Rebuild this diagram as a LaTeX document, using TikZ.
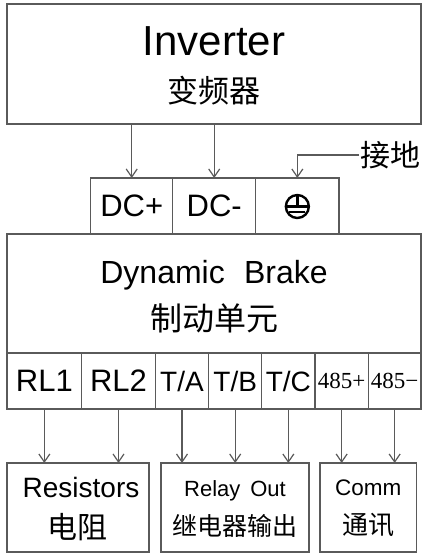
\documentclass[tikz,border=0pt]{standalone}
\usepackage{fontspec}
\setmainfont{Liberation Sans}
\newfontfamily\cjk{Noto Sans CJK SC}
\newfontfamily\numfont{Liberation Serif}
\usetikzlibrary{arrows.meta,positioning}
\definecolor{wire}{RGB}{90,90,90}

\begin{document}
\begin{tikzpicture}[
  x=1pt, y=-1pt,
  box/.style={draw=wire, line width=1.3pt, inner sep=0pt, outer sep=0pt},
  cell/.style={box, minimum height=56pt, font=\fontsize{31}{31}\selectfont},
  line/.style={-{Straight Barb[length=8pt,width=11pt]}, draw=wire, line width=1.2pt},
  txt/.style={inner sep=0pt}
]
\useasboundingbox (0,0) rectangle (424,555);

% inverter
\node[box, minimum width=414pt, minimum height=120pt] (inv) at (214,64) {};
\node[txt, anchor=base, font=\fontsize{42}{42}\selectfont] (invname) at (214,55) {Inverter};
\node[txt, font=\cjk\fontsize{31}{31}\selectfont] (invzh) at (214,90.5) {变频器};

% DC terminals
\node[cell, minimum width=82pt, anchor=north west] (dcp) at (90.7,178) {DC+};
\node[cell, minimum width=83pt, right=0pt of dcp] (dcn) {DC-};
\node[cell, minimum width=83.3pt, right=0pt of dcn] (pe) {};
\begin{scope}[shift={(pe.center)}, line width=2.4pt]
  \draw (0,0.5) circle[radius=11.5pt];
  \draw (0,-11) -- (0,0.5);
  \draw (-11.5,0.5) -- (11.5,0.5);
  \draw (-8,6) -- (8,6);
\end{scope}
\node[txt, anchor=west, inner sep=1pt, font=\cjk\fontsize{30}{30}\selectfont] (earth) at (359,155) {接地};

% brake unit
\node[box, minimum width=414pt, minimum height=119pt, anchor=north west] (brake) at (7,234) {};
\node[txt, anchor=base, font=\fontsize{32}{32}\selectfont] (brakename) at (214,283) {Dynamic\hspace{0.6em}Brake};
\node[txt, font=\cjk\fontsize{32}{32}\selectfont] (brakezh) at (214,318) {制动单元};

% output terminals
\node[cell, minimum width=74.7pt, anchor=north west] (rla) at (7,353) {RL1};
\node[cell, minimum width=73.6pt, right=0pt of rla] (rlb) {RL2};
\node[cell, minimum width=53.4pt, right=0pt of rlb, font=\fontsize{28}{28}\selectfont] (ta) {T/A};
\node[cell, minimum width=53pt, right=0pt of ta, font=\fontsize{28}{28}\selectfont] (tb) {T/B};
\node[cell, minimum width=53.3pt, right=0pt of tb, font=\fontsize{28}{28}\selectfont] (tc) {T/C};
\node[cell, minimum width=53.3pt, right=0pt of tc, font=\numfont\fontsize{23}{23}\selectfont] (rsp) {485+};
\node[cell, minimum width=52.7pt, right=0pt of rsp, font=\numfont\fontsize{23}{23}\selectfont] (rsn) {485−};

% targets
\node[box, minimum width=142pt, minimum height=89pt, anchor=north west] (res) at (7,463) {};
\node[txt, anchor=base, font=\fontsize{28}{28}\selectfont] (resname) at (81,497) {Resistors};
\node[txt, font=\cjk\fontsize{30}{30}\selectfont] (reszh) at (77,527.5) {电阻};
\node[box, minimum width=148pt, minimum height=89pt, anchor=north west] (relay) at (161,463) {};
\node[txt, anchor=base, font=\fontsize{22}{22}\selectfont] (relayname) at (235,496.5) {Relay\hspace{0.45em}Out};
\node[txt, font=\cjk\fontsize{25}{25}\selectfont] (relayzh) at (235,526) {继电器输出};
\node[box, minimum width=96.5pt, minimum height=89pt, anchor=north west] (comm) at (320,463) {};
\node[txt, anchor=base, font=\fontsize{22.5}{22.5}\selectfont] (commname) at (368.3,495) {Comm};
\node[txt, font=\cjk\fontsize{26}{26}\selectfont] (commzh) at (368.3,525) {通讯};

% connectors
\draw[line] (inv.south -| dcp) -- (dcp.north);
\draw[line] (inv.south -| dcn) -- (dcn.north);
\draw[line] (earth.west) -| (pe.north);
\draw[line] (rla.south) -- (rla.south |- res.north);
\draw[line] (rlb.south) -- (rlb.south |- res.north);
\draw[line] (ta.south) -- (ta.south |- relay.north);
\draw[line] (tb.south) -- (tb.south |- relay.north);
\draw[line] (tc.south) -- (tc.south |- relay.north);
\draw[line] (rsp.south) -- (rsp.south |- comm.north);
\draw[line] (rsn.south) -- (rsn.south |- comm.north);
\end{tikzpicture}
\end{document}
